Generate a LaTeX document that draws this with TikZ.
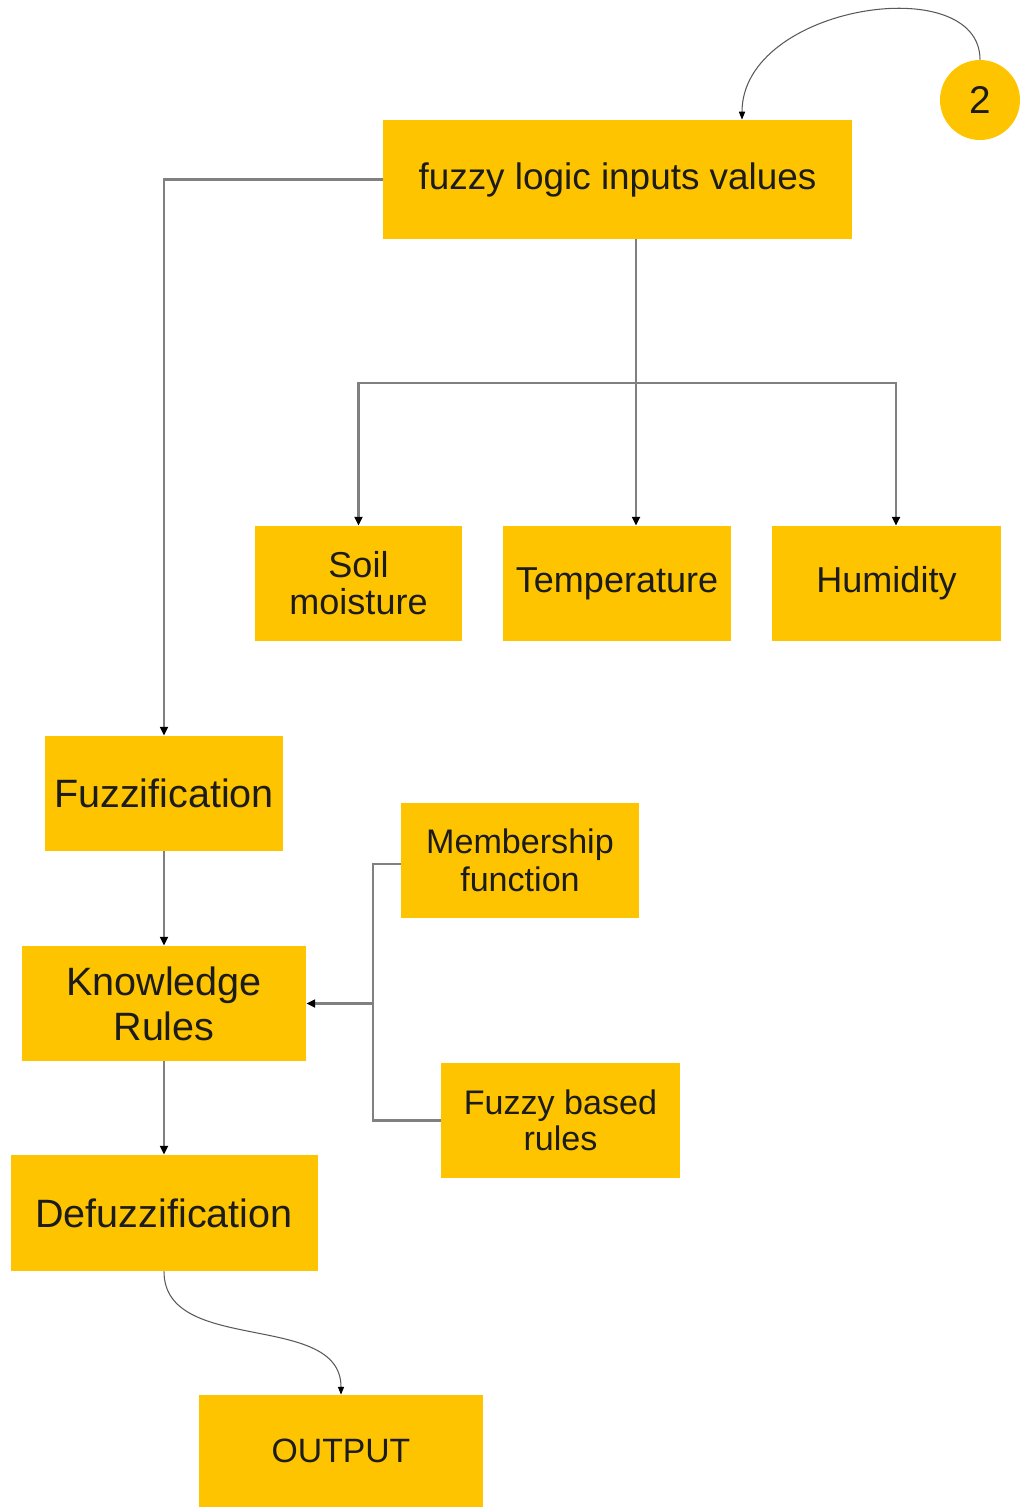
\documentclass[tikz,border=0pt]{standalone}
\usepackage{fontspec}
\setmainfont{Liberation Sans}
\usepackage{xcolor}
\usepackage{tikz}
\usetikzlibrary{arrows.meta,positioning}
\definecolor{boxyellow}{RGB}{255,196,0}
\definecolor{inktext}{RGB}{28,28,28}

\begin{document}
\begin{tikzpicture}[
  box/.style={fill=boxyellow,align=center,inner sep=0pt,text=inktext,
              minimum height=2.30cm},
  bubble/.style={circle,fill=boxyellow,minimum size=1.6cm,inner sep=0pt,
                 text=inktext,font=\fontsize{22}{24}\selectfont},
  link/.style={draw=gray,line width=1.3pt,
               -{Triangle[length=5pt,width=4.5pt,color=black]}},
  branch/.style={draw=gray,line width=1.3pt},
  curvy/.style={draw=black!65,line width=0.6pt,
               -{Triangle[length=4.5pt,width=3.5pt,color=black]}}
]
\useasboundingbox (0,0) rectangle (20.44,-30.14);

\node[box,minimum width=9.38cm,minimum height=2.38cm,font=\fontsize{21}{22}\selectfont]
  (inputs) at (12.35,-3.59) {fuzzy logic inputs values};
\node[bubble] (two) at (19.6,-2.0) {2};

\node[box,minimum width=4.14cm,font=\fontsize{20.5}{21}\selectfont]
  (soil) at (7.17,-11.67) {Soil\\moisture};
\node[box,minimum width=4.56cm,font=\fontsize{20.5}{21}\selectfont]
  (temp) at (12.34,-11.67) {Temperature};
\node[box,minimum width=4.58cm,font=\fontsize{20.5}{21}\selectfont]
  (humid) at (17.73,-11.67) {Humidity};

\node[box,minimum width=4.76cm,font=\fontsize{22.5}{25}\selectfont]
  (fuzz) at (3.28,-15.87) {Fuzzification};
\node[box,minimum width=5.68cm,font=\fontsize{22.5}{25.5}\selectfont]
  (know) at (3.28,-20.07) {Knowledge\\Rules};
\node[box,minimum width=6.14cm,minimum height=2.32cm,font=\fontsize{22.5}{25}\selectfont]
  (defuzz) at (3.28,-24.26) {Defuzzification};

\node[box,minimum width=4.76cm,font=\fontsize{19.4}{21.5}\selectfont]
  (member) at (10.40,-17.21) {Membership\\function};
\node[box,minimum width=4.78cm,font=\fontsize{19.4}{20.5}\selectfont]
  (rules) at (11.21,-22.41) {Fuzzy based\\rules};

\node[box,minimum width=5.68cm,minimum height=2.24cm,font=\fontsize{19.2}{21}\selectfont]
  (output) at (6.82,-29.02) {OUTPUT};

\coordinate (split) at (12.72,-7.66);
\coordinate (join) at (7.46,-20.07);

\draw[curvy] (two.north) .. controls +(0,1.8) and +(0,2.3) .. ([xshift=2.49cm]inputs.north);
\draw[link] (inputs.west) -| (fuzz.north);
\draw[link] (inputs.south -| split) -- (temp.north -| split);
\draw[link] (split) -| (soil.north);
\draw[link] (split) -| ([xshift=1.9mm]humid.north);
\draw[link] (fuzz) -- (know);
\draw[link] (know) -- (defuzz);
\draw[branch] ([yshift=-0.7mm]member.west) -| (join);
\draw[branch] (rules.west) -| (join);
\draw[link] (join) -- (know.east);
\draw[curvy] (defuzz.south) to[out=-90,in=90] (output.north);
\end{tikzpicture}
\end{document}
